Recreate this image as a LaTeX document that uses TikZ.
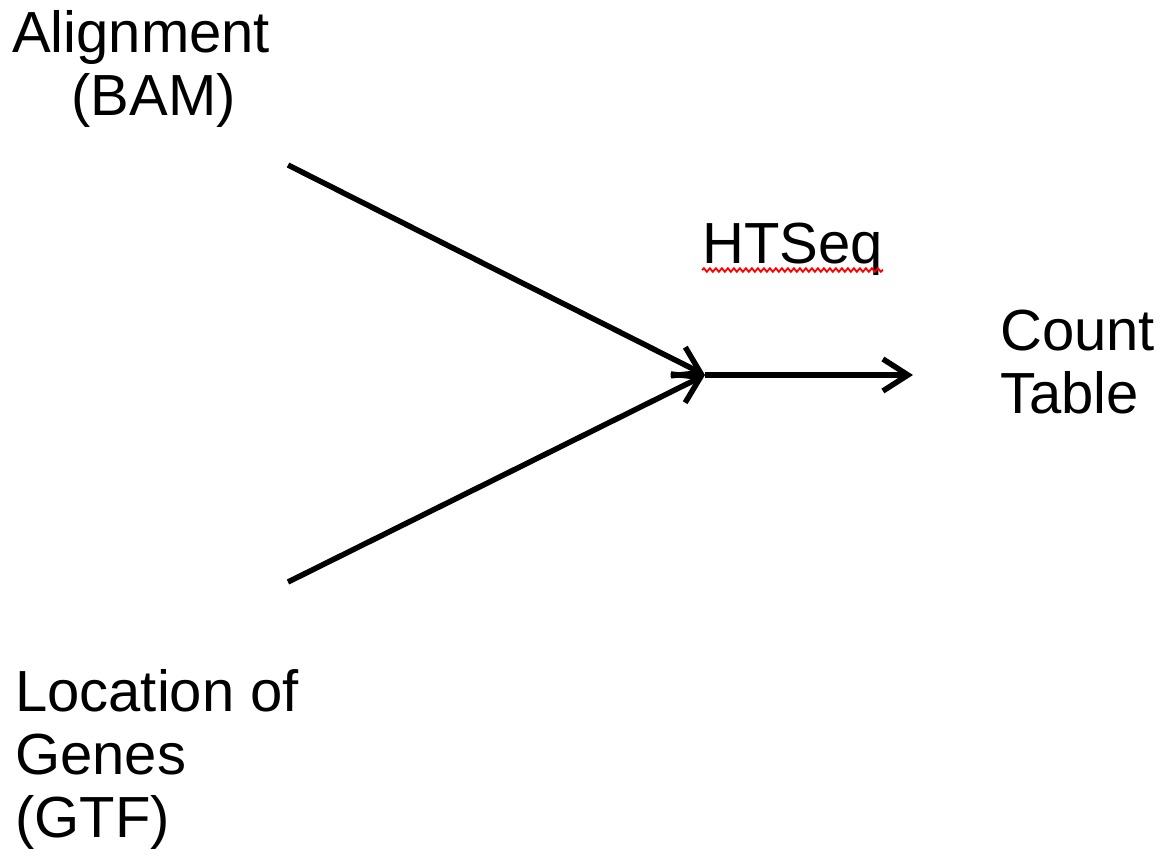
\documentclass[tikz,border=0pt]{standalone}
\usepackage{fontspec}
\setmainfont{Liberation Sans}
\usetikzlibrary{arrows, arrows.meta, decorations.pathmorphing}
\tikzstyle{words} = [inner sep=0pt, 
align=left, 
font=\fontsize{58}{63}\selectfont]
\tikzstyle{arrow} = [line width=5.5pt, 
-{Straight Barb[length=25pt, width=32pt, line width=5.5pt]}]
\tikzstyle{squiggle} = [red, line width=1.8pt, decorate, 
decoration={snake, amplitude=1.8pt, segment length=6pt}]

\begin{document}
\begin{tikzpicture}[x=1pt, y=-1pt]
\useasboundingbox (0,0) rectangle (1160,857);

% base anchor sits on the last line
\node (bam) [words, align=center, anchor=base west] at (12,115) {Alignment\\\hspace*{25pt}(BAM)};

\node (gtf) [words, anchor=base west] at (15,837) {Location of\\Genes\\(GTF)};

\node (htseq) [words, anchor=base west] at (702,263) {HTSeq};
\draw [squiggle] ([yshift=-7pt]htseq.base west) -- ([yshift=-7pt]htseq.base east);

\node (count) [words, anchor=base west] at (1000,413) {Count\\Table};

\coordinate (bamend) at (288,165);
\coordinate (gtfend) at (288,582);
\coordinate (merge) at (705,375);
\coordinate (countend) at (913,375);

\draw [arrow] (bamend) -- (merge);
\draw [arrow] (gtfend) -- (merge);
\draw [arrow] (merge) -- (countend);

\end{tikzpicture}
\end{document}
